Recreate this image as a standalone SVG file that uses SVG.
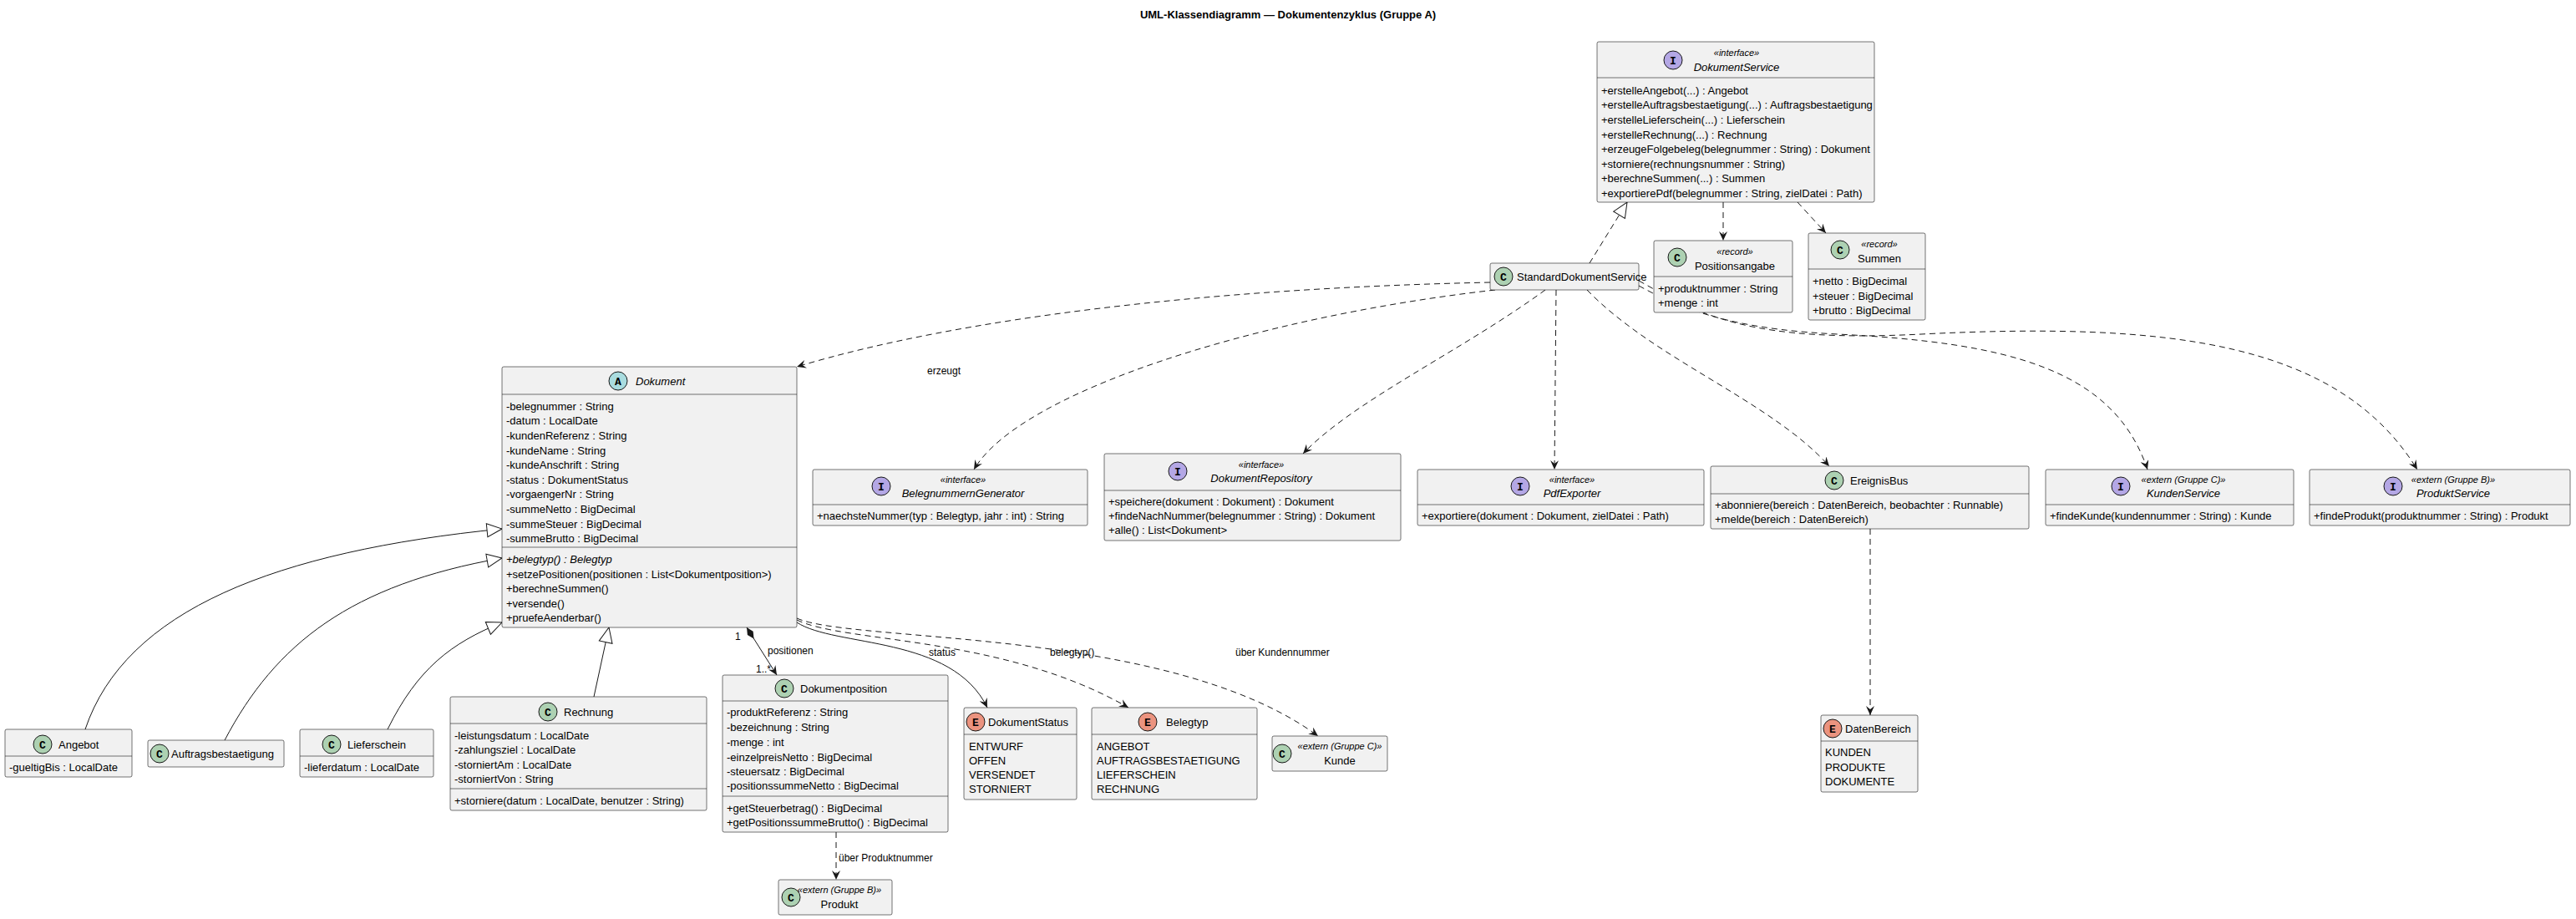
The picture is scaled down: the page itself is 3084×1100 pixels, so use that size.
<svg xmlns="http://www.w3.org/2000/svg" width="3084" height="1100" viewBox="0 0 3084 1100">
<style>
text{font-family:"Liberation Sans",Arial,sans-serif;font-size:13px;fill:#000}
.t{font-weight:bold;font-size:13px}
.st{font-size:11px;font-style:italic}
.it{font-style:italic}
.m{text-anchor:middle}
.box{fill:#F1F1F1;stroke:#181818;stroke-width:0.6}
.sep{stroke:#181818;stroke-width:0.6}
.ic{stroke:#181818;stroke-width:1}
.cC{fill:#ADD1B2}.cI{fill:#B4A7E5}.cA{fill:#A9DCDF}.cE{fill:#EB937F}
.il{font-family:"Liberation Mono",monospace;font-weight:bold;font-size:13px;text-anchor:middle}
.e{fill:none;stroke:#181818;stroke-width:1}
.d{stroke-dasharray:7,5}
.lb{font-size:12px}
</style>
<defs>
<marker id="ar" viewBox="0 0 12 10" refX="11" refY="5" markerWidth="12" markerHeight="10" markerUnits="userSpaceOnUse" orient="auto"><path d="M0,0 L11,5 L0,10 L4,5 Z" fill="#181818"/></marker>
<marker id="tri" viewBox="0 0 20 20" refX="19" refY="10" markerWidth="20" markerHeight="20" markerUnits="userSpaceOnUse" orient="auto"><path d="M1,2 L19,10 L1,18 Z" fill="#fff" stroke="#181818"/></marker>
<marker id="dia" viewBox="0 0 20 10" refX="1" refY="5" markerWidth="20" markerHeight="10" markerUnits="userSpaceOnUse" orient="auto"><path d="M1,5 L9,1 L17,5 L9,9 Z" fill="#181818"/></marker>
</defs>
<rect width="3084" height="1100" fill="#fff"/>
<text class="t m" x="1542" y="22">UML-Klassendiagramm — Dokumentenzyklus (Gruppe A)</text>

<g id="edges">
<path class="e d" d="M1903,315 L1948,242" marker-end="url(#tri)"/>
<path class="e d" d="M2063,242 L2063,288" marker-end="url(#ar)"/>
<path class="e d" d="M2152,242 L2186,279" marker-end="url(#ar)"/>
<path class="e d" d="M1784,338 C1450,345 1150,380 954,439" marker-end="url(#ar)"/>
<text class="lb" x="1110" y="448">erzeugt</text>
<path class="e d" d="M1790,347 C1500,380 1220,470 1166,562" marker-end="url(#ar)"/>
<path class="e d" d="M1850,347 C1750,420 1620,480 1560,543" marker-end="url(#ar)"/>
<path class="e d" d="M1863,347 L1861,562" marker-end="url(#ar)"/>
<path class="e d" d="M1900,347 C1980,430 2120,480 2190,558" marker-end="url(#ar)"/>
<path class="e d" d="M1962,342 C2030,380 2100,395 2200,400 C2400,410 2530,440 2571,562" marker-end="url(#ar)"/>
<path class="e d" d="M1962,336 C2040,380 2100,410 2300,400 C2600,385 2800,410 2894,562" marker-end="url(#ar)"/>
<path class="e d" d="M2239,633 L2239,856" marker-end="url(#ar)"/>
<path class="e" d="M102,873 C150,730 330,660 601,633" marker-end="url(#tri)"/>
<path class="e" d="M269,886 C330,770 420,700 601,668" marker-end="url(#tri)"/>
<path class="e" d="M464,873 C500,800 540,770 601,745" marker-end="url(#tri)"/>
<path class="e" d="M711,834 L729,751" marker-end="url(#tri)"/>
<path class="e" d="M894,751 L930,808" marker-start="url(#dia)" marker-end="url(#ar)"/>
<text class="lb" x="880" y="766">1</text>
<text class="lb" x="919" y="783">positionen</text>
<text class="lb" x="905" y="805">1..*</text>
<path class="e d" d="M1001,996 L1001,1053" marker-end="url(#ar)"/>
<text class="lb" x="1004" y="1031">über Produktnummer</text>
<path class="e" d="M954,745 C1000,775 1140,760 1182,847" marker-end="url(#ar)"/>
<text class="lb" x="1112" y="785">status</text>
<path class="e d" d="M954,742 C1010,770 1200,760 1351,847" marker-end="url(#ar)"/>
<text class="lb" x="1257" y="785">belegtyp()</text>
<path class="e d" d="M954,740 C1020,770 1400,750 1578,881" marker-end="url(#ar)"/>
<text class="lb" x="1479" y="785">über Kundennummer</text>
</g>

<g id="DokumentService">
<rect class="box" x="1912" y="50" width="332" height="192" rx="2"/>
<line class="sep" x1="1912" y1="93" x2="2244" y2="93"/>
<circle class="ic cI" cx="2003" cy="72" r="11"/><text class="il" x="2003" y="77">I</text>
<text class="st m" x="2079" y="67">«interface»</text>
<text class="it m" x="2079" y="85">DokumentService</text>
<text x="1917" y="113">+erstelleAngebot(...) : Angebot</text>
<text x="1917" y="130">+erstelleAuftragsbestaetigung(...) : Auftragsbestaetigung</text>
<text x="1917" y="148">+erstelleLieferschein(...) : Lieferschein</text>
<text x="1917" y="166">+erstelleRechnung(...) : Rechnung</text>
<text x="1917" y="183">+erzeugeFolgebeleg(belegnummer : String) : Dokument</text>
<text x="1917" y="201">+storniere(rechnungsnummer : String)</text>
<text x="1917" y="218">+berechneSummen(...) : Summen</text>
<text x="1917" y="236">+exportierePdf(belegnummer : String, zielDatei : Path)</text>
</g>

<g id="Positionsangabe">
<rect class="box" x="1980" y="288" width="166" height="86" rx="2"/>
<line class="sep" x1="1980" y1="331" x2="2146" y2="331"/>
<circle class="ic cC" cx="2008" cy="308" r="11"/><text class="il" x="2008" y="313">C</text>
<text class="st m" x="2077" y="305">«record»</text>
<text class="m" x="2077" y="323">Positionsangabe</text>
<text x="1985" y="350">+produktnummer : String</text>
<text x="1985" y="367">+menge : int</text>
</g>

<g id="Summen">
<rect class="box" x="2165" y="279" width="140" height="104" rx="2"/>
<line class="sep" x1="2165" y1="322" x2="2305" y2="322"/>
<circle class="ic cC" cx="2203" cy="299" r="11"/><text class="il" x="2203" y="304">C</text>
<text class="st m" x="2250" y="296">«record»</text>
<text class="m" x="2250" y="314">Summen</text>
<text x="2170" y="341">+netto : BigDecimal</text>
<text x="2170" y="359">+steuer : BigDecimal</text>
<text x="2170" y="376">+brutto : BigDecimal</text>
</g>

<g id="StandardDokumentService">
<rect class="box" x="1784" y="315" width="178" height="32" rx="2"/>
<circle class="ic cC" cx="1800" cy="331" r="11"/><text class="il" x="1800" y="336">C</text>
<text x="1816" y="336">StandardDokumentService</text>
</g>

<g id="Dokument">
<rect class="box" x="601" y="439" width="353" height="312" rx="2"/>
<line class="sep" x1="601" y1="472" x2="954" y2="472"/>
<line class="sep" x1="601" y1="655" x2="954" y2="655"/>
<circle class="ic cA" cx="740" cy="456" r="11"/><text class="il" x="740" y="461">A</text>
<text class="it" x="761" y="461">Dokument</text>
<text x="606" y="491">-belegnummer : String</text>
<text x="606" y="508">-datum : LocalDate</text>
<text x="606" y="526">-kundenReferenz : String</text>
<text x="606" y="544">-kundeName : String</text>
<text x="606" y="561">-kundeAnschrift : String</text>
<text x="606" y="579">-status : DokumentStatus</text>
<text x="606" y="596">-vorgaengerNr : String</text>
<text x="606" y="614">-summeNetto : BigDecimal</text>
<text x="606" y="632">-summeSteuer : BigDecimal</text>
<text x="606" y="649">-summeBrutto : BigDecimal</text>
<text class="it" x="606" y="674">+belegtyp() : Belegtyp</text>
<text x="606" y="692">+setzePositionen(positionen : List&lt;Dokumentposition&gt;)</text>
<text x="606" y="709">+berechneSummen()</text>
<text x="606" y="727">+versende()</text>
<text x="606" y="744">+pruefeAenderbar()</text>
</g>

<g id="BelegnummernGenerator">
<rect class="box" x="973" y="562" width="329" height="67" rx="2"/>
<line class="sep" x1="973" y1="604" x2="1302" y2="604"/>
<circle class="ic cI" cx="1055" cy="582" r="11"/><text class="il" x="1055" y="587">I</text>
<text class="st m" x="1153" y="578">«interface»</text>
<text class="it m" x="1153" y="595">BelegnummernGenerator</text>
<text x="978" y="622">+naechsteNummer(typ : Belegtyp, jahr : int) : String</text>
</g>

<g id="DokumentRepository">
<rect class="box" x="1322" y="543" width="355" height="104" rx="2"/>
<line class="sep" x1="1322" y1="587" x2="1677" y2="587"/>
<circle class="ic cI" cx="1410" cy="564" r="11"/><text class="il" x="1410" y="569">I</text>
<text class="st m" x="1510" y="560">«interface»</text>
<text class="it m" x="1510" y="577">DokumentRepository</text>
<text x="1327" y="605">+speichere(dokument : Dokument) : Dokument</text>
<text x="1327" y="622">+findeNachNummer(belegnummer : String) : Dokument</text>
<text x="1327" y="639">+alle() : List&lt;Dokument&gt;</text>
</g>

<g id="PdfExporter">
<rect class="box" x="1697" y="562" width="343" height="67" rx="2"/>
<line class="sep" x1="1697" y1="604" x2="2040" y2="604"/>
<circle class="ic cI" cx="1820" cy="582" r="11"/><text class="il" x="1820" y="587">I</text>
<text class="st m" x="1882" y="578">«interface»</text>
<text class="it m" x="1882" y="595">PdfExporter</text>
<text x="1702" y="622">+exportiere(dokument : Dokument, zielDatei : Path)</text>
</g>

<g id="EreignisBus">
<rect class="box" x="2048" y="558" width="381" height="75" rx="2"/>
<line class="sep" x1="2048" y1="591" x2="2429" y2="591"/>
<circle class="ic cC" cx="2196" cy="575" r="11"/><text class="il" x="2196" y="580">C</text>
<text x="2215" y="580">EreignisBus</text>
<text x="2053" y="609">+abonniere(bereich : DatenBereich, beobachter : Runnable)</text>
<text x="2053" y="626">+melde(bereich : DatenBereich)</text>
</g>

<g id="KundenService">
<rect class="box" x="2449" y="562" width="297" height="67" rx="2"/>
<line class="sep" x1="2449" y1="604" x2="2746" y2="604"/>
<circle class="ic cI" cx="2539" cy="582" r="11"/><text class="il" x="2539" y="587">I</text>
<text class="st m" x="2614" y="578">«extern (Gruppe C)»</text>
<text class="it m" x="2614" y="595">KundenService</text>
<text x="2454" y="622">+findeKunde(kundennummer : String) : Kunde</text>
</g>

<g id="ProduktService">
<rect class="box" x="2765" y="562" width="312" height="67" rx="2"/>
<line class="sep" x1="2765" y1="604" x2="3077" y2="604"/>
<circle class="ic cI" cx="2865" cy="582" r="11"/><text class="il" x="2865" y="587">I</text>
<text class="st m" x="2937" y="578">«extern (Gruppe B)»</text>
<text class="it m" x="2937" y="595">ProduktService</text>
<text x="2770" y="622">+findeProdukt(produktnummer : String) : Produkt</text>
</g>

<g id="DatenBereich">
<rect class="box" x="2180" y="856" width="116" height="92" rx="2"/>
<line class="sep" x1="2180" y1="887" x2="2296" y2="887"/>
<circle class="ic cE" cx="2194" cy="872" r="11"/><text class="il" x="2194" y="877">E</text>
<text x="2209" y="877">DatenBereich</text>
<text x="2185" y="905">KUNDEN</text>
<text x="2185" y="923">PRODUKTE</text>
<text x="2185" y="940">DOKUMENTE</text>
</g>

<g id="Angebot">
<rect class="box" x="6" y="873" width="152" height="57" rx="2"/>
<line class="sep" x1="6" y1="905" x2="158" y2="905"/>
<circle class="ic cC" cx="51" cy="891" r="11"/><text class="il" x="51" y="896">C</text>
<text x="70" y="896">Angebot</text>
<text x="11" y="923">-gueltigBis : LocalDate</text>
</g>

<g id="Auftragsbestaetigung">
<rect class="box" x="177" y="886" width="163" height="32" rx="2"/>
<circle class="ic cC" cx="191" cy="902" r="11"/><text class="il" x="191" y="907">C</text>
<text x="205" y="907">Auftragsbestaetigung</text>
</g>

<g id="Lieferschein">
<rect class="box" x="359" y="873" width="160" height="57" rx="2"/>
<line class="sep" x1="359" y1="905" x2="519" y2="905"/>
<circle class="ic cC" cx="397" cy="891" r="11"/><text class="il" x="397" y="896">C</text>
<text x="416" y="896">Lieferschein</text>
<text x="364" y="923">-lieferdatum : LocalDate</text>
</g>

<g id="Rechnung">
<rect class="box" x="539" y="834" width="307" height="136" rx="2"/>
<line class="sep" x1="539" y1="866" x2="846" y2="866"/>
<line class="sep" x1="539" y1="944" x2="846" y2="944"/>
<circle class="ic cC" cx="656" cy="852" r="11"/><text class="il" x="656" y="857">C</text>
<text x="675" y="857">Rechnung</text>
<text x="544" y="885">-leistungsdatum : LocalDate</text>
<text x="544" y="902">-zahlungsziel : LocalDate</text>
<text x="544" y="920">-storniertAm : LocalDate</text>
<text x="544" y="937">-storniertVon : String</text>
<text x="544" y="963">+storniere(datum : LocalDate, benutzer : String)</text>
</g>

<g id="Dokumentposition">
<rect class="box" x="865" y="808" width="270" height="188" rx="2"/>
<line class="sep" x1="865" y1="839" x2="1135" y2="839"/>
<line class="sep" x1="865" y1="953" x2="1135" y2="953"/>
<circle class="ic cC" cx="939" cy="824" r="11"/><text class="il" x="939" y="829">C</text>
<text x="958" y="829">Dokumentposition</text>
<text x="870" y="857">-produktReferenz : String</text>
<text x="870" y="875">-bezeichnung : String</text>
<text x="870" y="893">-menge : int</text>
<text x="870" y="911">-einzelpreisNetto : BigDecimal</text>
<text x="870" y="928">-steuersatz : BigDecimal</text>
<text x="870" y="945">-positionssummeNetto : BigDecimal</text>
<text x="870" y="972">+getSteuerbetrag() : BigDecimal</text>
<text x="870" y="989">+getPositionssummeBrutto() : BigDecimal</text>
</g>

<g id="Produkt">
<rect class="box" x="932" y="1053" width="136" height="42" rx="2"/>
<circle class="ic cC" cx="947" cy="1074" r="11"/><text class="il" x="947" y="1079">C</text>
<text class="st m" x="1005" y="1069">«extern (Gruppe B)»</text>
<text class="m" x="1005" y="1087">Produkt</text>
</g>

<g id="DokumentStatus">
<rect class="box" x="1154" y="847" width="135" height="110" rx="2"/>
<line class="sep" x1="1154" y1="879" x2="1289" y2="879"/>
<circle class="ic cE" cx="1168" cy="864" r="11"/><text class="il" x="1168" y="869">E</text>
<text x="1183" y="869">DokumentStatus</text>
<text x="1160" y="898">ENTWURF</text>
<text x="1160" y="915">OFFEN</text>
<text x="1160" y="932">VERSENDET</text>
<text x="1160" y="949">STORNIERT</text>
</g>

<g id="Belegtyp">
<rect class="box" x="1307" y="847" width="198" height="110" rx="2"/>
<line class="sep" x1="1307" y1="879" x2="1505" y2="879"/>
<circle class="ic cE" cx="1374" cy="864" r="11"/><text class="il" x="1374" y="869">E</text>
<text x="1396" y="869">Belegtyp</text>
<text x="1313" y="898">ANGEBOT</text>
<text x="1313" y="915">AUFTRAGSBESTAETIGUNG</text>
<text x="1313" y="932">LIEFERSCHEIN</text>
<text x="1313" y="949">RECHNUNG</text>
</g>

<g id="Kunde">
<rect class="box" x="1523" y="881" width="138" height="42" rx="2"/>
<circle class="ic cC" cx="1535" cy="902" r="11"/><text class="il" x="1535" y="907">C</text>
<text class="st m" x="1604" y="897">«extern (Gruppe C)»</text>
<text class="m" x="1604" y="915">Kunde</text>
</g>
</svg>
